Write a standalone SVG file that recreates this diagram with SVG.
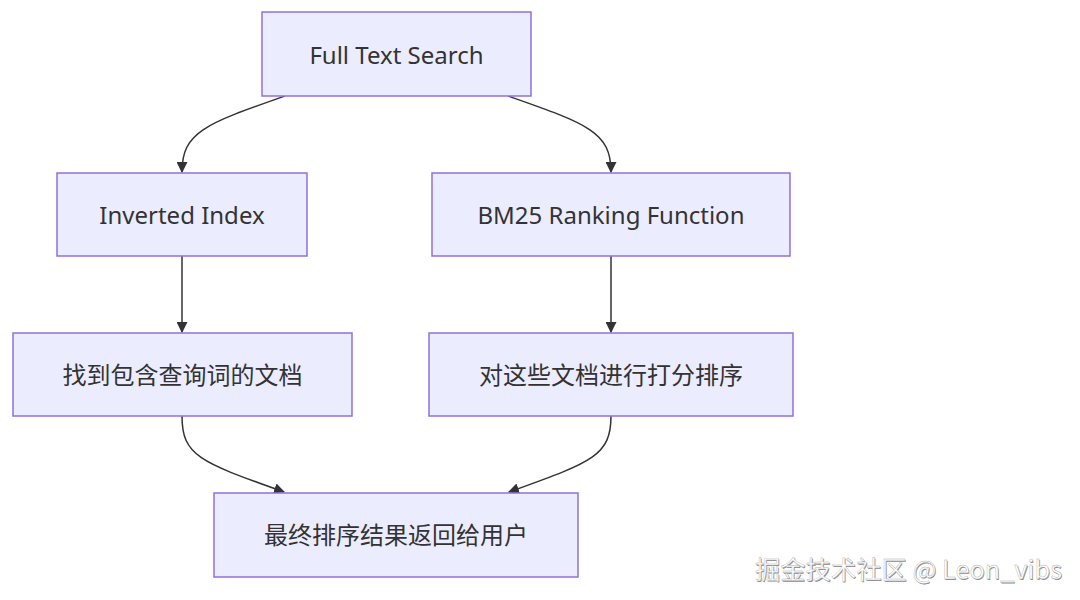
<svg xmlns="http://www.w3.org/2000/svg" width="1080" height="600" viewBox="0 0 1080 600">
<style>
.node rect{fill:#ECECFF;stroke:#9370DB;stroke-width:1.5}
.node text{font-family:"Noto Sans","Noto Sans CJK SC",sans-serif;font-size:24px;fill:#333;text-anchor:middle;dominant-baseline:central}
.edge{fill:none;stroke:#333;stroke-width:1.5;marker-end:url(#arr)}
.wm{font-family:"Noto Sans CJK SC","Noto Sans",sans-serif;font-size:25.3px}
</style>
<defs>
<marker id="arr" viewBox="0 0 10 10" refX="9" refY="5" markerWidth="11" markerHeight="11" markerUnits="userSpaceOnUse" orient="auto"><path d="M0,0 L10,5 L0,10 z" fill="#333"/></marker>
</defs>
<rect width="1080" height="600" fill="#fff"/>
<g id="connectors">
<path class="edge" d="M285,96 C205,124 182,132 182,172"/>
<path class="edge" d="M508,96 C588,124 611,132 611,172"/>
<path class="edge" d="M182,256 L182,332"/>
<path class="edge" d="M611,256 L611,332"/>
<path class="edge" d="M182,416 C182,456 200,462 284,492"/>
<path class="edge" d="M611,416 C611,456 592,462 509,492"/>
</g>
<g id="n1" class="node"><rect x="262" y="12" width="269" height="84"/><text x="396.5" y="54">Full Text Search</text></g>
<g id="n2" class="node"><rect x="57" y="173" width="250" height="83"/><text x="182" y="214">Inverted Index</text></g>
<g id="n3" class="node"><rect x="432" y="173" width="358" height="83"/><text x="611" y="214">BM25 Ranking Function</text></g>
<g id="n4" class="node"><rect x="13" y="333" width="339" height="83"/><text x="182.5" y="374">找到包含查询词的文档</text></g>
<g id="n5" class="node"><rect x="429" y="333" width="364" height="83"/><text x="611" y="374">对这些文档进行打分排序</text></g>
<g id="n6" class="node"><rect x="214" y="493" width="364" height="84"/><text x="396" y="534">最终排序结果返回给用户</text></g>
<g id="watermark">
<text class="wm" x="755.8" y="579.8" fill="#8a8a8a">掘金技术社区 @ Leon_vibs</text>
<text class="wm" x="755" y="579" fill="#ffffff" stroke="#b0b0b0" stroke-width="0.4">掘金技术社区 @ Leon_vibs</text>
</g>
</svg>
